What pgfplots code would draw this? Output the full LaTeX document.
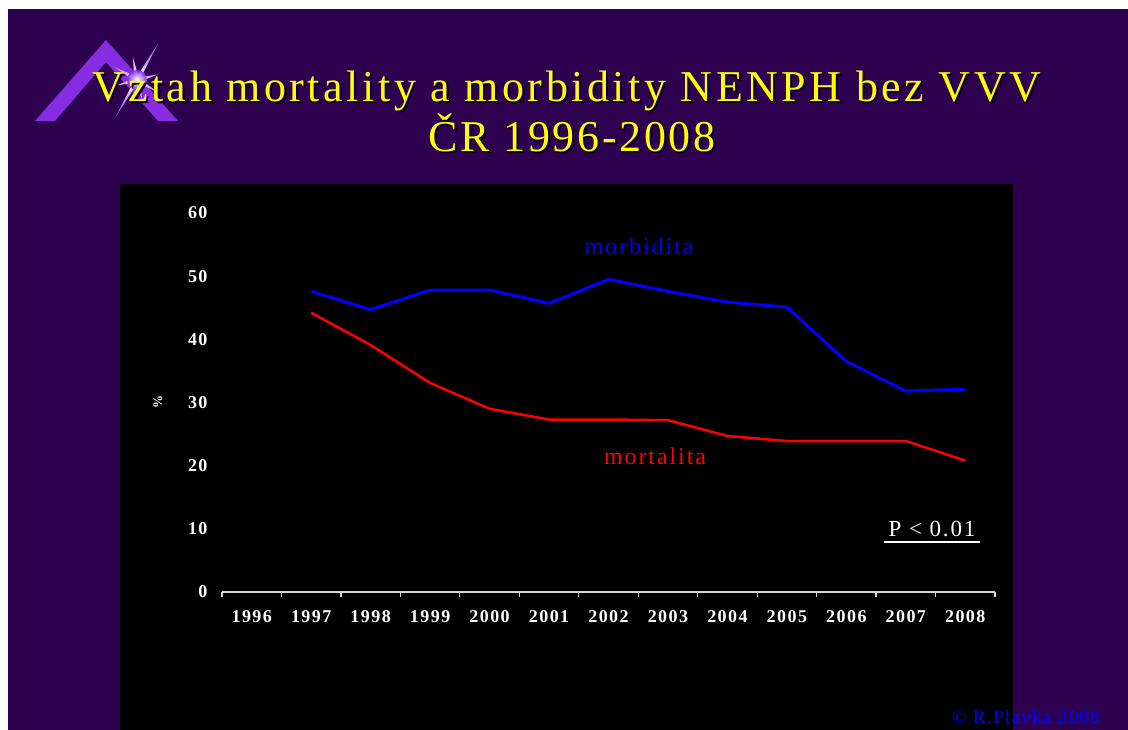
\documentclass[border=0pt]{standalone}
\usepackage{fontspec}
\setmainfont{Liberation Serif}
\usepackage{pgfplots}
\pgfplotsset{compat=1.18}
\definecolor{bgpurple}{RGB}{45,0,80}
\definecolor{logoviolet}{RGB}{135,45,225}
\definecolor{titleyellow}{RGB}{255,255,0}
\definecolor{axisgray}{RGB}{215,215,215}
\begin{document}
\begin{tikzpicture}[x=1pt,y=1pt]
\useasboundingbox (0,0) rectangle (1128,730);
\fill[white] (0,0) rectangle (1128,730);
\fill[bgpurple] (8,0) rectangle (1128,721);
\fill[black] (120,0) rectangle (1013,546);
% logo
\fill[logoviolet] (35,609) -- (106,690) -- (178,609) -- (158,609) -- (106,668) -- (55,609) -- cycle;
\begin{scope}[shift={(137,650)}]
\shade[inner color=white, outer color=logoviolet!70!white]
  (60:42) -- (80:5) -- (100:24) -- (125:5) -- (150:28) -- (170:5) -- (195:22) -- (215:5)
  -- (240:42) -- (260:5) -- (285:20) -- (305:5) -- (330:26) -- (350:5) -- (15:22) -- (35:5) -- cycle;
\shade[inner color=white, outer color=white!0!logoviolet, opacity=0.9] (0,0) circle (10);
\end{scope}
% title
\node[anchor=base, text=black!80!bgpurple, font=\fontsize{44}{44}\selectfont\addfontfeatures{LetterSpace=8}] at (569,626) {Vztah mortality a morbidity NENPH bez VVV};
\node[anchor=base, text=titleyellow, font=\fontsize{44}{44}\selectfont\addfontfeatures{LetterSpace=8}] at (567,628) {Vztah mortality a morbidity NENPH bez VVV};
\node[anchor=base, text=black!80!bgpurple, font=\fontsize{44}{44}\selectfont\addfontfeatures{LetterSpace=6}] at (574,576) {ČR 1996-2008};
\node[anchor=base, text=titleyellow, font=\fontsize{44}{44}\selectfont\addfontfeatures{LetterSpace=6}] at (572,578) {ČR 1996-2008};
\begin{axis}[
 at={(222pt,138pt)}, anchor=south west,
 scale only axis, width=773pt, height=379pt,
 xmin=1995.5, xmax=2008.5, ymin=0, ymax=60,
 axis lines*=left,
 x axis line style={axisgray, line width=1.5pt},
 y axis line style={draw=none},
 xtick={1995.5,1996.5,1997.5,1998.5,1999.5,2000.5,2001.5,2002.5,2003.5,2004.5,2005.5,2006.5,2007.5,2008.5},
 x tick label as interval,
 xticklabels={1996,1997,1998,1999,2000,2001,2002,2003,2004,2005,2006,2007,2008},
 ytick={0,10,20,30,40,50,60},
 tick align=outside,
 major tick length=5pt,
 xtick style={axisgray, line width=1.2pt},
 ytick style={draw=none},
 ticklabel style={font=\fontsize{18}{18}\selectfont\bfseries\addfontfeatures{LetterSpace=8}, text=white},
 yticklabel style={xshift=-6pt},
 xticklabel style={yshift=-10pt},
 /pgf/number format/assume math mode=true,
 /pgf/number format/1000 sep={},
 clip=false,
]
\addplot[blue, line width=3pt, line join=round] coordinates {(1997,47.6) (1998,44.7) (1999,47.8) (2000,47.8) (2001,45.7) (2002,49.5) (2003,47.6) (2004,45.9) (2005,45.1) (2006,36.5) (2007,31.8) (2008,32.1)};
\addplot[red, line width=2.5pt, line join=round] coordinates {(1997,44.2) (1998,39.1) (1999,33.1) (2000,29.0) (2001,27.3) (2002,27.3) (2003,27.2) (2004,24.7) (2005,23.9) (2006,23.9) (2007,23.9) (2008,20.8)};
\end{axis}
% annotations
\node[anchor=base, text=blue, font=\fontsize{24}{24}\selectfont\addfontfeatures{LetterSpace=8}] at (639,475) {morbidita};
\node[anchor=base, text=red, font=\fontsize{24}{24}\selectfont\addfontfeatures{LetterSpace=8}] at (655,265) {mortalita};
\node[anchor=base, text=white, font=\fontsize{23}{23}\selectfont\addfontfeatures{LetterSpace=8}] at (932,193) {P < 0.01};
\draw[white, line width=1.5pt] (884,188) -- (980,188);
\node[rotate=90, text=white, font=\fontsize{13}{13}\selectfont\bfseries] at (158,328) {\%};
\node[anchor=base, text=blue, font=\fontsize{19}{19}\selectfont\addfontfeatures{LetterSpace=7}] at (1026,6) {© R.Plavka 2008};
\end{tikzpicture}
\end{document}
